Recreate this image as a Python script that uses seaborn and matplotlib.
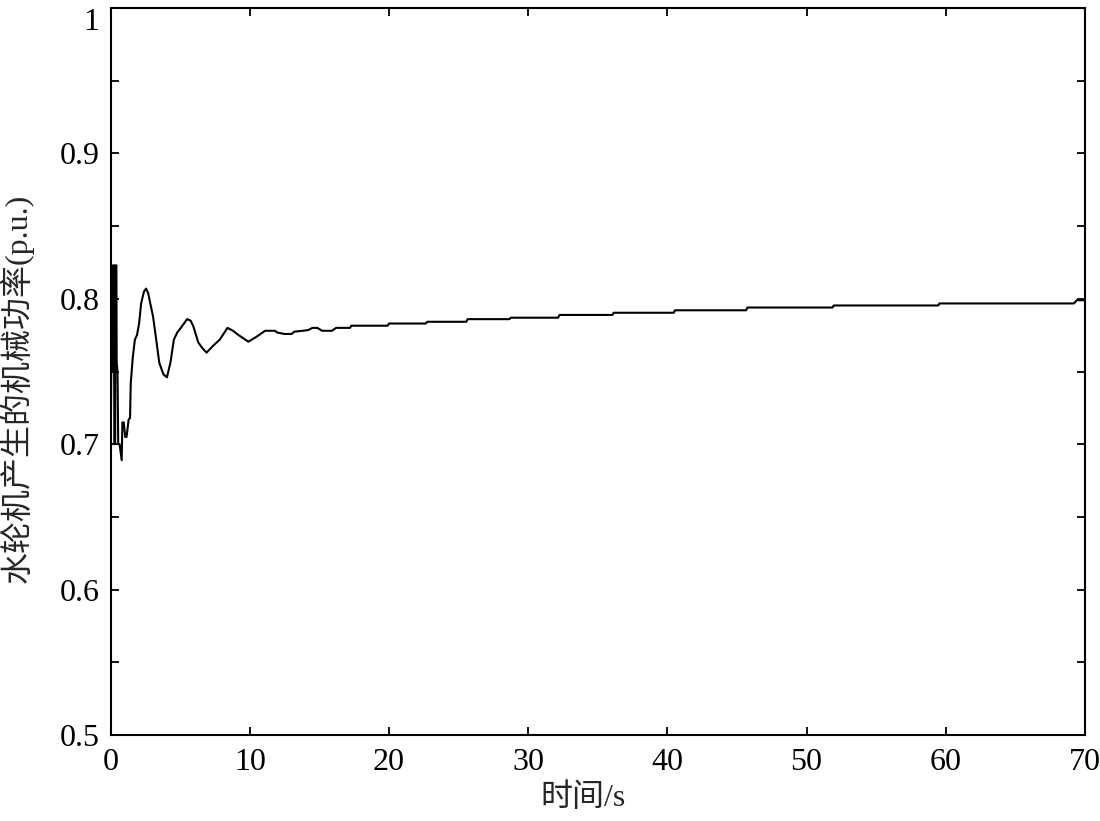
import matplotlib
matplotlib.use("Agg")
import matplotlib.pyplot as plt
import numpy as np
import pandas as pd
import seaborn as sns
from matplotlib.ticker import MultipleLocator

# time (s) and turbine mechanical power (p.u.)
time_s = [
    0.0, 0.05, 0.15, 0.17, 0.25, 0.27, 0.33, 0.35, 0.42, 0.44, 0.5, 0.55, 0.65,
    0.8, 0.85, 0.95, 1.05, 1.15, 1.3, 1.4, 1.45, 1.6, 1.75, 1.9, 2.05, 2.2, 2.4,
    2.55, 2.7, 2.85, 3.05, 3.25, 3.5, 3.8, 4.05, 4.3, 4.55, 4.8, 5.05, 5.5, 5.75,
    5.95, 6.3, 6.6, 6.9, 7.4, 7.85, 8.4, 8.8, 9.2, 9.9, 10.5, 11.1, 11.8, 12.0,
    12.5, 13.0, 13.2, 13.8, 14.2, 14.5, 14.85, 15.2, 15.9, 16.2, 17.2, 17.3,
    19.9, 20.0, 22.65, 22.75, 25.55, 25.65, 28.65, 28.75, 32.15, 32.25, 36.05,
    36.15, 40.45, 40.55, 45.65, 45.75, 51.85, 51.95, 59.45, 59.55, 69.2, 69.4,
    70.0,
]
power_pu = [
    0.675, 0.75, 0.75, 0.823, 0.823, 0.70, 0.70, 0.823, 0.823, 0.756, 0.75,
    0.70, 0.70, 0.689, 0.715, 0.715, 0.705, 0.705, 0.717, 0.718, 0.742, 0.76,
    0.772, 0.775, 0.783, 0.797, 0.805, 0.807, 0.804, 0.797, 0.788, 0.774, 0.756,
    0.748, 0.746, 0.756, 0.772, 0.777, 0.780, 0.786, 0.785, 0.781, 0.770, 0.766,
    0.763, 0.768, 0.772, 0.780, 0.778, 0.775, 0.7705, 0.774, 0.778, 0.778,
    0.7767, 0.7758, 0.7758, 0.7774, 0.778, 0.7785, 0.780, 0.780, 0.778, 0.778,
    0.780, 0.780, 0.7815, 0.7815, 0.783, 0.783, 0.7842, 0.7842, 0.786, 0.786,
    0.787, 0.787, 0.7889, 0.7889, 0.7904, 0.7904, 0.7921, 0.7921, 0.794, 0.794,
    0.7954, 0.7954, 0.7968, 0.7968, 0.799, 0.799,
]

x_ticks = [0, 10, 20, 30, 40, 50, 60, 70]
y_ticks = [0.5, 0.6, 0.7, 0.8, 0.9, 1.0]
y_tick_labels = ["0.5", "0.6", "0.7", "0.8", "0.9", "1"]

sns.set_style("ticks")
plt.rcParams["font.family"] = ["Liberation Serif", "Noto Sans CJK SC"]
plt.rcParams["axes.unicode_minus"] = False

df = pd.DataFrame({"t": time_s, "p": power_pu})

fig = plt.figure(figsize=(11, 8.21), dpi=100)
ax = fig.add_axes([0.1005, 0.1047, 0.8859, 0.8856])

sns.lineplot(data=df, x="t", y="p", estimator=None, sort=False,
             color="black", lw=1.5, ax=ax)

ax.set_xlim(0, 70)
ax.set_ylim(0.5, 1.0)
ax.set_xticks(x_ticks)
ax.set_xticklabels([str(v) for v in x_ticks])
ax.set_yticks(y_ticks)
ax.set_yticklabels(y_tick_labels)
ax.yaxis.set_minor_locator(MultipleLocator(0.05))

ax.tick_params(which="both", direction="in", top=True, right=True,
               length=6, width=1.3, labelsize=23, colors="black")
ax.tick_params(axis="x", pad=9)
ax.tick_params(axis="y", pad=8)
for s in ax.spines.values():
    s.set_visible(True)
    s.set_linewidth(1.5)
    s.set_color("black")

# top label sits just under the figure edge, as in the reference
ax.get_yticklabels()[-1].set_va("top")

ax.set_xlabel("时间/s", fontsize=23)
ax.set_ylabel("水轮机产生的机械功率(p.u.)", fontsize=23)
ax.xaxis.set_label_coords(0.485, -0.066)
ax.yaxis.set_label_coords(-0.079, 0.477)

plt.savefig("out.png", dpi=100)
plt.close()
